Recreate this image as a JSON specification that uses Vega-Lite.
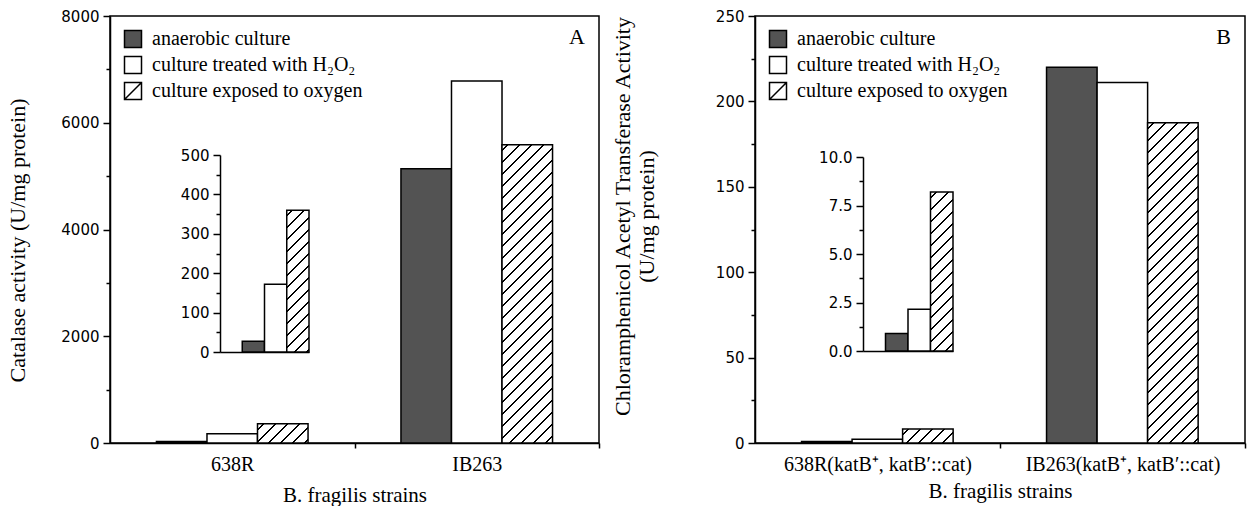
{
  "$schema": "https://vega.github.io/schema/vega-lite/v6.json",
  "padding": {"left": 6, "top": 8, "right": 4, "bottom": 0},
  "background": "white",
  "params": [
    {"name": "hs", "value": [
      {"offset":0.0129,"color":"#fff"},{"offset":0.0129,"color":"#000"},{"offset":0.0183,"color":"#000"},{"offset":0.0183,"color":"#fff"},
      {"offset":0.0442,"color":"#fff"},{"offset":0.0442,"color":"#000"},{"offset":0.0496,"color":"#000"},{"offset":0.0496,"color":"#fff"},
      {"offset":0.0754,"color":"#fff"},{"offset":0.0754,"color":"#000"},{"offset":0.0808,"color":"#000"},{"offset":0.0808,"color":"#fff"},
      {"offset":0.1067,"color":"#fff"},{"offset":0.1067,"color":"#000"},{"offset":0.1121,"color":"#000"},{"offset":0.1121,"color":"#fff"},
      {"offset":0.1379,"color":"#fff"},{"offset":0.1379,"color":"#000"},{"offset":0.1433,"color":"#000"},{"offset":0.1433,"color":"#fff"},
      {"offset":0.1692,"color":"#fff"},{"offset":0.1692,"color":"#000"},{"offset":0.1746,"color":"#000"},{"offset":0.1746,"color":"#fff"},
      {"offset":0.2004,"color":"#fff"},{"offset":0.2004,"color":"#000"},{"offset":0.2058,"color":"#000"},{"offset":0.2058,"color":"#fff"},
      {"offset":0.2317,"color":"#fff"},{"offset":0.2317,"color":"#000"},{"offset":0.2371,"color":"#000"},{"offset":0.2371,"color":"#fff"},
      {"offset":0.2629,"color":"#fff"},{"offset":0.2629,"color":"#000"},{"offset":0.2683,"color":"#000"},{"offset":0.2683,"color":"#fff"},
      {"offset":0.2942,"color":"#fff"},{"offset":0.2942,"color":"#000"},{"offset":0.2996,"color":"#000"},{"offset":0.2996,"color":"#fff"},
      {"offset":0.3254,"color":"#fff"},{"offset":0.3254,"color":"#000"},{"offset":0.3308,"color":"#000"},{"offset":0.3308,"color":"#fff"},
      {"offset":0.3567,"color":"#fff"},{"offset":0.3567,"color":"#000"},{"offset":0.3621,"color":"#000"},{"offset":0.3621,"color":"#fff"},
      {"offset":0.3879,"color":"#fff"},{"offset":0.3879,"color":"#000"},{"offset":0.3933,"color":"#000"},{"offset":0.3933,"color":"#fff"},
      {"offset":0.4192,"color":"#fff"},{"offset":0.4192,"color":"#000"},{"offset":0.4246,"color":"#000"},{"offset":0.4246,"color":"#fff"},
      {"offset":0.4504,"color":"#fff"},{"offset":0.4504,"color":"#000"},{"offset":0.4558,"color":"#000"},{"offset":0.4558,"color":"#fff"},
      {"offset":0.4817,"color":"#fff"},{"offset":0.4817,"color":"#000"},{"offset":0.4871,"color":"#000"},{"offset":0.4871,"color":"#fff"},
      {"offset":0.5129,"color":"#fff"},{"offset":0.5129,"color":"#000"},{"offset":0.5183,"color":"#000"},{"offset":0.5183,"color":"#fff"},
      {"offset":0.5442,"color":"#fff"},{"offset":0.5442,"color":"#000"},{"offset":0.5496,"color":"#000"},{"offset":0.5496,"color":"#fff"},
      {"offset":0.5754,"color":"#fff"},{"offset":0.5754,"color":"#000"},{"offset":0.5808,"color":"#000"},{"offset":0.5808,"color":"#fff"},
      {"offset":0.6067,"color":"#fff"},{"offset":0.6067,"color":"#000"},{"offset":0.6121,"color":"#000"},{"offset":0.6121,"color":"#fff"},
      {"offset":0.6379,"color":"#fff"},{"offset":0.6379,"color":"#000"},{"offset":0.6433,"color":"#000"},{"offset":0.6433,"color":"#fff"},
      {"offset":0.6692,"color":"#fff"},{"offset":0.6692,"color":"#000"},{"offset":0.6746,"color":"#000"},{"offset":0.6746,"color":"#fff"},
      {"offset":0.7004,"color":"#fff"},{"offset":0.7004,"color":"#000"},{"offset":0.7058,"color":"#000"},{"offset":0.7058,"color":"#fff"},
      {"offset":0.7317,"color":"#fff"},{"offset":0.7317,"color":"#000"},{"offset":0.7371,"color":"#000"},{"offset":0.7371,"color":"#fff"},
      {"offset":0.7629,"color":"#fff"},{"offset":0.7629,"color":"#000"},{"offset":0.7683,"color":"#000"},{"offset":0.7683,"color":"#fff"},
      {"offset":0.7942,"color":"#fff"},{"offset":0.7942,"color":"#000"},{"offset":0.7996,"color":"#000"},{"offset":0.7996,"color":"#fff"},
      {"offset":0.8254,"color":"#fff"},{"offset":0.8254,"color":"#000"},{"offset":0.8308,"color":"#000"},{"offset":0.8308,"color":"#fff"},
      {"offset":0.8567,"color":"#fff"},{"offset":0.8567,"color":"#000"},{"offset":0.8621,"color":"#000"},{"offset":0.8621,"color":"#fff"},
      {"offset":0.8879,"color":"#fff"},{"offset":0.8879,"color":"#000"},{"offset":0.8933,"color":"#000"},{"offset":0.8933,"color":"#fff"},
      {"offset":0.9192,"color":"#fff"},{"offset":0.9192,"color":"#000"},{"offset":0.9246,"color":"#000"},{"offset":0.9246,"color":"#fff"},
      {"offset":0.9504,"color":"#fff"},{"offset":0.9504,"color":"#000"},{"offset":0.9558,"color":"#000"},{"offset":0.9558,"color":"#fff"},
      {"offset":0.9817,"color":"#fff"},{"offset":0.9817,"color":"#000"},{"offset":0.9871,"color":"#000"},{"offset":0.9871,"color":"#fff"}
    ]}
  ],
  "datasets": {
    "catalase": [
      {"strain": "638R", "treatment": "anaerobic culture", "activity": 27},
      {"strain": "638R", "treatment": "culture treated with H₂O₂", "activity": 172},
      {"strain": "638R", "treatment": "culture exposed to oxygen", "activity": 360},
      {"strain": "IB263", "treatment": "anaerobic culture", "activity": 5140},
      {"strain": "IB263", "treatment": "culture treated with H₂O₂", "activity": 6780},
      {"strain": "IB263", "treatment": "culture exposed to oxygen", "activity": 5590}
    ],
    "cat": [
      {"strain": "638R(katB⁺, katB′::cat)", "treatment": "anaerobic culture", "activity": 0.9},
      {"strain": "638R(katB⁺, katB′::cat)", "treatment": "culture treated with H₂O₂", "activity": 2.15},
      {"strain": "638R(katB⁺, katB′::cat)", "treatment": "culture exposed to oxygen", "activity": 8.2},
      {"strain": "IB263(katB⁺, katB′::cat)", "treatment": "anaerobic culture", "activity": 220},
      {"strain": "IB263(katB⁺, katB′::cat)", "treatment": "culture treated with H₂O₂", "activity": 211},
      {"strain": "IB263(katB⁺, katB′::cat)", "treatment": "culture exposed to oxygen", "activity": 187.5}
    ]
  },
  "spacing": 9,
  "hconcat": [
    {
      "width": 489,
      "height": 427,
      "title": {"text": "A", "anchor": "end", "frame": "group", "font": "Liberation Serif", "fontSize": 22, "fontWeight": "normal", "color": "black", "dx": -14, "dy": 40, "offset": 0},
      "data": {"name": "catalase"},
      "layer": [
        {
          "mark": {"type": "bar", "stroke": "black", "strokeWidth": 1.5},
          "encoding": {
            "x": {"field": "strain", "type": "nominal", "sort": null,
              "scale": {"paddingInner": 0.38, "paddingOuter": 0.19},
              "axis": {"title": "B. fragilis strains", "labelAngle": 0, "labelFont": "Liberation Serif", "labelFontSize": 20, "tickOffset": 122.25, "labelOffset": -122.25, "tickSize": 5, "labelPadding": 6, "titleFontSize": 21, "titlePadding": 10}},
            "xOffset": {"field": "treatment", "type": "nominal", "scale": {"domain": ["anaerobic culture", "culture treated with H₂O₂", "culture exposed to oxygen"]}},
            "y": {"field": "activity", "type": "quantitative",
              "scale": {"domain": [0, 8000], "nice": false},
              "axis": {"title": "Catalase activity (U/mg protein)", "values": [0,1000,2000,3000,4000,5000,6000,7000,8000], "format": "d",
                "labelExpr": "datum.value % 2000 == 0 ? datum.label : ''",
                "tickSize": {"condition": {"test": "datum.value % 2000 != 0", "value": 4}, "value": 7},
                "labelPadding": 4, "titlePadding": 31, "titleY": 224}},
            "fill": {
              "condition": [
                {"test": "datum.treatment == 'culture exposed to oxygen' && datum.strain == 'IB263'", "value": {"expr": "{gradient: 'linear', x1: 0, y1: 0, x2: 0.2117, y2: 1.251, stops: hs}"}},
                {"test": "datum.treatment == 'culture exposed to oxygen'", "value": {"expr": "{gradient: 'linear', x1: 0, y1: 0, x2: 6.644, y2: 2.526, stops: hs}"}}
              ],
              "field": "treatment", "type": "nominal",
              "scale": {"domain": ["anaerobic culture", "culture treated with H₂O₂", "culture exposed to oxygen"], "range": ["#535353", "white", "white"]},
              "legend": {"title": null, "orient": "top-left",
                "encoding": {"symbols": {"shape": {"condition": {"test": "datum.value == 'culture exposed to oxygen'", "value": "M-1,-1H1V1H-1ZM-1,1L1,-1"}, "value": "square"}}}}
            }
          }
        },
        {
          "transform": [{"filter": "datum.strain == '638R'"}],
          "mark": {"type": "bar", "stroke": "black", "strokeWidth": 1.5},
          "encoding": {
            "x": {"field": "treatment", "type": "nominal",
              "scale": {"domain": [" ", "anaerobic culture", "culture treated with H₂O₂", "culture exposed to oxygen"], "range": [110, 199], "paddingInner": 0, "paddingOuter": 0},
              "axis": {"orient": "bottom", "offset": -91, "labels": false, "ticks": false, "title": null}},
            "y": {"field": "activity", "type": "quantitative",
              "scale": {"domain": [0, 500], "nice": false, "range": [336, 139]},
              "axis": {"orient": "left", "offset": -110, "title": null, "values": [0,50,100,150,200,250,300,350,400,450,500], "format": "d",
                "labelExpr": "datum.value % 100 == 0 ? datum.label : ''",
                "tickSize": {"condition": {"test": "datum.value % 100 != 0", "value": 4}, "value": 7},
                "labelPadding": 4}},
            "fill": {
              "condition": {"test": "datum.treatment == 'culture exposed to oxygen'", "value": {"expr": "{gradient: 'linear', x1: 0, y1: 0, x2: 0.4147, y2: 2.643, stops: hs}"}},
              "field": "treatment", "type": "nominal",
              "scale": {"domain": ["anaerobic culture", "culture treated with H₂O₂", "culture exposed to oxygen"], "range": ["#535353", "white", "white"]},
              "legend": {"title": null, "orient": "top-left",
                "encoding": {"symbols": {"shape": {"condition": {"test": "datum.value == 'culture exposed to oxygen'", "value": "M-1,-1H1V1H-1ZM-1,1L1,-1"}, "value": "square"}}}}
            }
          }
        }
      ],
      "resolve": {"scale": {"x": "independent", "y": "independent"}}
    },
    {
      "width": 490,
      "height": 427,
      "title": {"text": "B", "anchor": "end", "frame": "group", "font": "Liberation Serif", "fontSize": 22, "fontWeight": "normal", "color": "black", "dx": -14, "dy": 40, "offset": 0},
      "data": {"name": "cat"},
      "layer": [
        {
          "mark": {"type": "bar", "stroke": "black", "strokeWidth": 1.5},
          "encoding": {
            "x": {"field": "strain", "type": "nominal", "sort": null,
              "scale": {"paddingInner": 0.38, "paddingOuter": 0.19},
              "axis": {"title": "B. fragilis strains", "labelAngle": 0, "labelFont": "Liberation Serif", "labelFontSize": 20, "tickOffset": 122.5, "labelOffset": -122.5, "tickSize": 5, "labelPadding": 6, "titleFontSize": 21, "titlePadding": 6, "labelLimit": 400}},
            "xOffset": {"field": "treatment", "type": "nominal", "scale": {"domain": ["anaerobic culture", "culture treated with H₂O₂", "culture exposed to oxygen"]}},
            "y": {"field": "activity", "type": "quantitative",
              "scale": {"domain": [0, 250], "nice": false},
              "axis": {"title": ["Chloramphenicol Acetyl Transferase Activity", "(U/mg protein)"], "values": [0,25,50,75,100,125,150,175,200,225,250], "format": "d",
                "labelExpr": "datum.value % 50 == 0 ? datum.label : ''",
                "tickSize": {"condition": {"test": "datum.value % 50 != 0", "value": 4}, "value": 7},
                "labelPadding": 4, "titlePadding": 57, "titleY": 200}},
            "fill": {
              "condition": [
                {"test": "datum.treatment == 'culture exposed to oxygen' && indexof(datum.strain, 'IB263') == 0", "value": {"expr": "{gradient: 'linear', x1: 0, y1: 0, x2: 0.1849, y2: 1.1698, stops: hs}"}},
                {"test": "datum.treatment == 'culture exposed to oxygen'", "value": {"expr": "{gradient: 'linear', x1: 0, y1: 0, x2: 7.058, y2: 1.928, stops: hs}"}}
              ],
              "field": "treatment", "type": "nominal",
              "scale": {"domain": ["anaerobic culture", "culture treated with H₂O₂", "culture exposed to oxygen"], "range": ["#535353", "white", "white"]},
              "legend": {"title": null, "orient": "top-left",
                "encoding": {"symbols": {"shape": {"condition": {"test": "datum.value == 'culture exposed to oxygen'", "value": "M-1,-1H1V1H-1ZM-1,1L1,-1"}, "value": "square"}}}}
            }
          }
        },
        {
          "transform": [{"filter": "indexof(datum.strain, '638R') == 0"}],
          "mark": {"type": "bar", "stroke": "black", "strokeWidth": 1.5},
          "encoding": {
            "x": {"field": "treatment", "type": "nominal",
              "scale": {"domain": [" ", "anaerobic culture", "culture treated with H₂O₂", "culture exposed to oxygen"], "range": [108, 198], "paddingInner": 0, "paddingOuter": 0},
              "axis": {"orient": "bottom", "offset": -92, "labels": false, "ticks": false, "title": null}},
            "y": {"field": "activity", "type": "quantitative",
              "scale": {"domain": [0, 10], "nice": false, "range": [335, 141]},
              "axis": {"orient": "left", "offset": -108, "title": null, "values": [0,1.25,2.5,3.75,5,6.25,7.5,8.75,10], "format": ".1f",
                "labelExpr": "datum.value % 2.5 == 0 ? datum.label : ''",
                "tickSize": {"condition": {"test": "datum.value % 2.5 != 0", "value": 4}, "value": 7},
                "labelPadding": 4}},
            "fill": {
              "condition": {"test": "datum.treatment == 'culture exposed to oxygen'", "value": {"expr": "{gradient: 'linear', x1: 0, y1: 0, x2: 0.3346, y2: 2.366, stops: hs}"}},
              "field": "treatment", "type": "nominal",
              "scale": {"domain": ["anaerobic culture", "culture treated with H₂O₂", "culture exposed to oxygen"], "range": ["#535353", "white", "white"]},
              "legend": {"title": null, "orient": "top-left",
                "encoding": {"symbols": {"shape": {"condition": {"test": "datum.value == 'culture exposed to oxygen'", "value": "M-1,-1H1V1H-1ZM-1,1L1,-1"}, "value": "square"}}}}
            }
          }
        }
      ],
      "resolve": {"scale": {"x": "independent", "y": "independent"}}
    }
  ],
  "resolve": {"scale": {"fill": "independent"}},
  "config": {
    "view": {"stroke": "black", "strokeWidth": 1.5},
    "axis": {"grid": false, "domainColor": "black", "domainWidth": 1.5, "tickColor": "black", "tickWidth": 1.5,
      "labelColor": "black", "labelFont": "DejaVu Sans", "labelFontSize": 15,
      "titleFont": "Liberation Serif", "titleFontSize": 22, "titleFontWeight": "normal", "titleColor": "black"},
    "legend": {"offset": 13, "padding": 0, "symbolType": "square", "symbolSize": 289, "symbolStrokeColor": "black", "symbolStrokeWidth": 1.5,
      "symbolOpacity": 1, "labelFont": "Liberation Serif", "labelFontSize": 20, "labelColor": "black", "rowPadding": 2, "labelOffset": 9, "labelLimit": 400}
  }
}
